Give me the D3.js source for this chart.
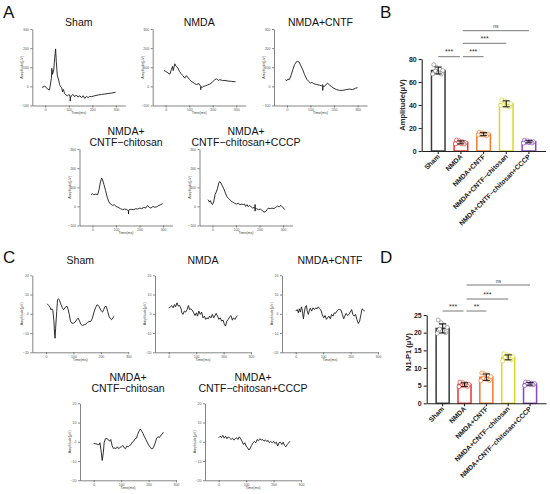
<!DOCTYPE html>
<html lang="en">
<head>
<meta charset="UTF-8">
<title>ERG amplitudes</title>
<style>
  body { margin: 0; background: #fff; }
  svg { display: block; font-family: "Liberation Sans", Arial, sans-serif; }
  .trace { fill: none; stroke: #1a1a1a; stroke-width: 0.9px; stroke-linejoin: round; }
  .mini .domain, .mini .tick line { stroke: #333; stroke-width: 0.6px; }
  .mini .tick text { font-size: 3.5px; fill: #555; }
  .mini-label { font-size: 3.6px; fill: #444; }
  .ptitle { font-size: 10.5px; fill: #111; text-anchor: middle; }
  .letter { font-size: 17px; fill: #111; }
  .bars .domain, .bars .tick line { stroke: #222; stroke-width: 1.1px; }
  .bars .tick text { font-size: 7px; font-weight: bold; fill: #222; }
  .ylab { font-size: 7.5px; font-weight: bold; fill: #222; text-anchor: middle; }
  .xlab { font-size: 6.8px; font-weight: bold; fill: #222; text-anchor: end; }
  .sig line { stroke: #555; stroke-width: 0.8px; }
  .sig text { fill: #333; text-anchor: middle; }
</style>
</head>
<body>
<div id="chart"></div>
<script src="https://d3js.org/d3.v7.min.js"></script>
<script>
// ---- flash ERG traces (time ms, amplitude uV) ----
const flashSham = [[-14,-5],[-6,-2],[-3,3],[4,-7],[11,-14],[18,-19],[26,42],[28,94],[31,63],[36,86],[40,147],[44,196],[47,129],[51,59],[57,33],[61,10],[65,-2],[70,-7],[73,-28],[77,-16],[82,-37],[88,-45],[94,-49],[100,-44],[104,-45],[106,-62],[106,-77],[107,-60],[111,-49],[118,-42],[125,-54],[132,-45],[139,-56],[147,-49],[154,-59],[161,-49],[168,-63],[175,-52],[182,-59],[189,-52],[196,-54],[210,-49],[225,-45],[239,-42],[253,-40],[267,-37],[282,-35],[299,-31]];
const flashNMDA = [[-7,83],[1,78],[10,70],[18,64],[24,87],[29,104],[32,83],[39,118],[45,104],[52,96],[59,78],[66,66],[73,56],[81,43],[88,56],[93,49],[102,35],[109,26],[116,21],[123,14],[130,10],[137,12],[142,14],[149,0],[149,-17],[150,-2],[155,-5],[160,0],[169,3],[177,7],[188,12],[199,23],[209,35],[216,40],[223,31],[230,35],[241,31],[252,31],[265,28],[279,26],[297,24]];
const flashCNTF = [[-7,35],[0,30],[4,38],[10,35],[17,56],[25,87],[32,113],[39,127],[46,130],[52,127],[59,108],[67,87],[75,61],[84,38],[92,26],[100,17],[106,21],[114,14],[126,10],[137,7],[146,3],[152,9],[152,-21],[153,2],[158,0],[165,7],[172,17],[179,9],[188,0],[198,-9],[209,-16],[223,-21],[237,-21],[251,-17],[265,-14],[279,-17],[290,-10],[300,-7]];
const flashChitosan = [[-6,61],[0,66],[6,61],[14,64],[22,61],[28,87],[33,122],[39,148],[43,139],[49,113],[56,82],[63,47],[70,23],[77,12],[85,5],[92,9],[100,0],[109,-5],[119,-12],[128,-17],[137,-14],[145,-16],[153,-23],[153,-40],[154,-20],[159,-16],[167,-16],[176,-17],[184,-12],[192,-14],[201,-9],[209,-12],[218,-5],[226,-9],[234,5],[241,-5],[248,-9],[257,0],[265,-5],[273,-2],[282,5],[290,9],[298,14]];
const flashCCCP = [[-19,35],[-13,23],[-9,30],[-5,17],[0,9],[5,23],[11,61],[16,75],[21,92],[27,122],[31,130],[36,122],[41,110],[48,92],[55,70],[61,52],[69,40],[77,30],[85,23],[93,17],[101,12],[109,16],[117,9],[125,12],[131,9],[136,12],[141,0],[147,9],[152,-2],[157,5],[164,-2],[171,-9],[177,-5],[181,-12],[181,10],[181,-25],[182,-12],[187,-12],[195,-17],[203,-14],[211,-21],[219,-30],[227,-26],[232,-17],[237,-9],[245,-12],[253,-9],[261,-12],[269,-5],[277,2],[284,-2],[291,5],[299,-5],[307,-17]];

// ---- oscillatory potential traces ----
const opSham = [[4,5.2],[10,4.3],[15,3.3],[18,2.1],[22,2.6],[25,1.6],[29,-4],[31,-10],[33,-12.7],[35,-7.5],[39,1.2],[42,7.3],[46,7.8],[50,6.8],[54,5],[59,3.3],[64,2.1],[69,3],[73,3.8],[77,3.8],[81,2.1],[85,-0.5],[89,-3.7],[94,-4.9],[100,-4.9],[106,-4.3],[112,-3.1],[117,-2.3],[122,-3.7],[127,-5.4],[133,-6.1],[139,-5.7],[145,-5.4],[151,-4.5],[157,-4],[163,-4],[169,-2.3],[175,0.9],[181,3.3],[186,4.7],[191,4.3],[196,3],[201,1.6],[206,0.9],[210,2.1],[215,3.8],[220,3.8],[225,1.2],[230,-1.4],[235,-2.6],[239,-3.1],[244,-1.9],[249,-1.2]];
const opNMDA = [[0,3.1],[6,3.6],[11,4.3],[16,3.1],[21,4.8],[25,3.6],[30,5.7],[35,4],[40,4.3],[45,2.6],[48,0.5],[52,-0.3],[57,1.4],[62,0.9],[67,2.2],[72,4.3],[76,2.2],[81,2.6],[86,1.9],[91,0.5],[96,-0.9],[101,0.5],[105,-1.2],[110,1.4],[115,-0.3],[120,0.9],[125,-2.1],[130,-1.2],[135,-2.9],[139,-2.1],[144,-2.6],[149,-1.2],[154,-2.1],[159,-0.3],[164,-2.1],[168,-1.2],[173,0.2],[178,-1.2],[183,-2.9],[188,-2.1],[193,-3.8],[198,-3.3],[202,-5],[207,-6.4],[212,-3.8],[217,-2.9],[222,-1.6],[227,-0.9],[232,-3.3],[236,-2.1],[241,-2.9],[246,-1.7],[251,-0.9]];
const opCNTF = [[0,1.4],[5,2.2],[10,0.5],[13,2.6],[17,0.9],[21,3.6],[24,1.9],[28,-2.6],[32,1.4],[35,3.6],[39,4.3],[42,1.4],[46,-0.3],[50,1.9],[53,2.9],[58,1.4],[63,3.1],[68,2.2],[73,3.1],[78,2.6],[82,3.6],[87,2.6],[92,1.9],[97,-0.5],[102,-2.1],[107,-0.9],[112,-2.9],[116,-2.1],[121,-1.2],[126,-2.6],[131,-0.3],[136,-1.2],[141,0.5],[145,0.2],[150,1.4],[155,2.2],[160,2.2],[165,1.9],[170,-0.3],[175,-2.6],[179,-1.2],[184,0.2],[189,-0.9],[194,-0.3],[199,0.9],[204,2.2],[208,-0.3],[213,-1.2],[218,-0.3],[223,-2.9],[228,-5],[233,-3.8],[238,-0.3],[242,2.6],[247,1.9],[252,1.4]];
const opChitosan = [[0,-0.9],[6,-1],[12,-1.2],[19,-1.6],[23,-0.5],[27,-4.8],[31,-9.7],[35,-5.7],[38,-0.5],[43,1.7],[48,1.6],[53,1.2],[58,0.3],[62,1.2],[67,-1.9],[72,-3.6],[77,-3.1],[81,-3.6],[86,-2.6],[91,-3.6],[96,-2.9],[101,-2.6],[106,-1.9],[111,-3.1],[116,-3.6],[121,-2.2],[126,-2.6],[131,-1.9],[136,-1.4],[141,-0.2],[146,0.3],[151,1.6],[156,1.9],[160,3.8],[165,5.5],[170,6.7],[175,5.5],[180,4.3],[185,2.6],[190,1.2],[195,-0.2],[200,-1.6],[205,-2.6],[210,-3.6],[215,-3.6],[220,-2.2],[225,-0.2],[230,2.1],[235,2.6],[240,2.2],[244,3.3],[249,3.8],[254,5]];
const opCCCP = [[0,2.1],[5,2.9],[10,2.2],[15,3.3],[20,1.9],[25,2.9],[30,1.6],[35,2.6],[40,1.9],[45,1.2],[50,1.9],[55,0.9],[60,1.6],[65,2.1],[70,1.2],[75,2.6],[80,1.6],[85,0.2],[90,-1.4],[95,-0.5],[100,-2.2],[105,-3.1],[110,-4.3],[115,-3.3],[120,-1.9],[125,-0.5],[130,0.2],[135,-0.5],[140,1.2],[145,0.5],[150,1.6],[155,0.9],[160,1.2],[165,0.3],[170,1],[175,0.2],[180,0.7],[185,-0.5],[190,0.2],[195,-0.5],[200,0.3],[205,-0.9],[210,-0.2],[215,-2.2],[220,-0.5],[225,-0.2],[230,-1.4],[235,-0.2],[240,-1.9],[245,-2.6],[250,-1.4],[255,-0.5],[260,0.3]];

const traceTitles = [["Sham"], ["NMDA"], ["NMDA+CNTF"], ["NMDA+", "CNTF\u2212chitosan"], ["NMDA+", "CNTF\u2212chitosan+CCCP"]];
const flashYTicks = [-100, 0, 100, 200, 300];
const opYTicks = [-20, -10, 0, 10, 20];
const timeTicks = [0, 100, 200, 300];

// ---- bar charts ----
const groups = ["Sham", "NMDA", "NMDA+CNTF", "NMDA+CNTF\u2212chitosan", "NMDA+CNTF\u2212chitosan+CCCP"];
const groupColors = ["#3a3a3a", "#e8352f", "#f4792b", "#dcd62c", "#8b45c0"];
const ampMean = [70, 7.5, 14.6, 41, 8];
const ampSD = [3, 1.3, 1.3, 2.6, 0.9];
const ampPoints = [[75, 72.5, 71, 70, 69.5, 68, 67, 67], [9.5, 8.8, 8, 7.3, 7, 6.5, 6, 6.2], [16.3, 15.5, 15, 14.7, 14.2, 13.8, 13.3, 14], [44.5, 43.5, 42, 41, 40.2, 39, 38.5, 39.5], [9.3, 8.8, 8.4, 8, 7.6, 7.2, 7, 6.8]];
const n1p1Mean = [21.2, 5.3, 7.4, 13, 5.5];
const n1p1SD = [1.3, 0.5, 0.9, 0.7, 0.35];
const n1p1Points = [[23.6, 22.8, 22, 21.5, 21, 20.5, 20, 19.8], [6, 5.8, 5.5, 5.3, 5, 5, 4.8, 4.7], [8.6, 8.3, 8, 7.5, 7, 6.8, 6.5, 6.4], [14, 13.7, 13.5, 13.2, 13, 12.6, 12.3, 12], [6, 5.9, 5.7, 5.6, 5.4, 5.3, 5.2, 5]];
const sigB = [["Sham", "NMDA", "***"], ["NMDA", "NMDA+CNTF", "***"], ["NMDA", "NMDA+CNTF\u2212chitosan", "***"], ["NMDA", "NMDA+CNTF\u2212chitosan+CCCP", "ns"]];
const sigD = [["Sham", "NMDA", "***"], ["NMDA", "NMDA+CNTF", "**"], ["NMDA", "NMDA+CNTF\u2212chitosan", "***"], ["NMDA", "NMDA+CNTF\u2212chitosan+CCCP", "ns"]];

const width = 550, height = 494;
const svg = d3.select("#chart").append("svg").attr("width", width).attr("height", height);

function tracePanel(data, p) {
  const g = svg.append("g").attr("class", "mini");
  const x = d3.scaleLinear().domain(p.xDomain).range([p.x, p.x + p.w]);
  const y = d3.scaleLinear().domain(p.yDomain).range([p.top + p.h, p.top]);
  g.append("g").attr("transform", `translate(0,${p.top + p.h})`)
    .call(d3.axisBottom(x).tickValues(timeTicks).tickSize(2).tickSizeOuter(0).tickPadding(1.5));
  g.append("g").attr("transform", `translate(${p.x},0)`)
    .call(d3.axisLeft(y).tickValues(p.yTicks).tickSize(2).tickSizeOuter(0).tickPadding(1.5));
  g.append("path").datum(data).attr("class", "trace")
    .attr("d", d3.line().x(d => x(d[0])).y(d => y(d[1])));
  g.append("text").attr("class", "mini-label")
    .attr("transform", `translate(${p.x - 9},${p.top + p.h / 2}) rotate(-90)`)
    .attr("text-anchor", "middle").text("Amplitude(\u03bcV)");
  g.append("text").attr("class", "mini-label")
    .attr("x", p.x + p.w / 2).attr("y", p.top + p.h + 8.5)
    .attr("text-anchor", "middle").text("Time(ms)");
  p.title.forEach((t, i) => {
    svg.append("text").attr("class", "ptitle")
      .attr("x", p.x + p.w / 2).attr("y", p.titleY + i * 11.5).text(t);
  });
}

const flashSets = [flashSham, flashNMDA, flashCNTF, flashChitosan, flashCCCP];
const flashPos = [
  { x: 32.3, top: 29, titleY: 25.5 }, { x: 152.7, top: 29, titleY: 25.5 }, { x: 274, top: 29, titleY: 25.5 },
  { x: 79.5, top: 149, titleY: 134.5 }, { x: 199.5, top: 149, titleY: 134.5 }
];
flashSets.forEach((d, i) => tracePanel(d, Object.assign({
  w: 93, h: 76.5, xDomain: [-55, 340], yDomain: [-100, 300], yTicks: flashYTicks, title: traceTitles[i]
}, flashPos[i])));

const opSets = [opSham, opNMDA, opCNTF, opChitosan, opCCCP];
const opPos = [
  { x: 32.3, top: 275.3, titleY: 264 }, { x: 155, top: 275.3, titleY: 264 }, { x: 282, top: 275.3, titleY: 264 },
  { x: 80, top: 403.3, titleY: 380.5 }, { x: 205, top: 403.3, titleY: 380.5 }
];
opSets.forEach((d, i) => tracePanel(d, Object.assign({
  w: 96, h: 77, xDomain: [-50, 300], yDomain: [-20, 20], yTicks: opYTicks, title: traceTitles[i]
}, opPos[i])));

function barPanel(means, sds, points, sigs, p) {
  const g = svg.append("g").attr("class", "bars");
  const x = d3.scaleBand().domain(groups).range([p.left, p.right]).paddingInner(0.34).paddingOuter(0.4);
  const y = d3.scaleLinear().domain(p.yDomain).range([p.bottom, p.top]);
  const cx = name => x(name) + x.bandwidth() / 2;

  g.selectAll("rect.bar").data(groups).join("rect")
    .attr("x", d => x(d) + 0.7).attr("width", x.bandwidth() - 1.4)
    .attr("y", (d, i) => y(means[i])).attr("height", (d, i) => p.bottom - y(means[i]))
    .attr("fill", "#fff").attr("stroke", (d, i) => groupColors[i]).attr("stroke-width", 1.5);

  const jitter = [-4.5, -1.5, 1.5, 4.5, -3, 0, 3, -5.5];
  groups.forEach((grp, i) => {
    g.selectAll(null).data(points[i]).join("circle")
      .attr("cx", (v, k) => cx(grp) + jitter[k % jitter.length])
      .attr("cy", v => y(v)).attr("r", 2)
      .attr("fill", "#fff").attr("stroke", i === 0 ? "#888" : groupColors[i]).attr("stroke-width", 0.7);
    const eg = g.append("g").attr("stroke", "#111").attr("stroke-width", 1);
    eg.append("line").attr("x1", cx(grp)).attr("x2", cx(grp))
      .attr("y1", y(means[i] - sds[i])).attr("y2", y(means[i] + sds[i]));
    [means[i] - sds[i], means[i] + sds[i]].forEach(v => {
      eg.append("line").attr("x1", cx(grp) - 3.5).attr("x2", cx(grp) + 3.5).attr("y1", y(v)).attr("y2", y(v));
    });
  });

  g.append("g").attr("transform", `translate(${p.left},0)`)
    .call(d3.axisLeft(y).tickValues(p.yTicks).tickSize(3).tickSizeOuter(0).tickPadding(2));
  const xa = g.append("g").attr("transform", `translate(0,${p.bottom})`)
    .call(d3.axisBottom(x).tickSize(3).tickSizeOuter(0).tickFormat(""));
  g.selectAll("text.xlab").data(groups).join("text").attr("class", "xlab")
    .attr("transform", d => `translate(${cx(d) + 2},${p.bottom + 6}) rotate(-45)`).text(d => d);

  svg.append("text").attr("class", "ylab")
    .attr("transform", `translate(${p.yLabX},${p.yLabY}) rotate(-90)`).text(p.yLabel);

  const sg = svg.append("g").attr("class", "sig");
  sigs.forEach((s, i) => {
    const yy = p.sigY[i];
    const x1 = cx(s[0]) + (i === 0 ? 0 : 2), x2 = cx(s[1]) - (i === 0 ? 1 : 0);
    sg.append("line").attr("x1", x1).attr("x2", x2).attr("y1", yy).attr("y2", yy);
    sg.append("text").attr("x", (x1 + x2) / 2).attr("y", yy - 2.5)
      .style("font-size", s[2] === "ns" ? "5px" : "7px").text(s[2]);
  });
}

barPanel(ampMean, ampSD, ampPoints, sigB, {
  left: 421.7, right: 545.5, bottom: 151, top: 59, yDomain: [0, 80], yTicks: [0, 20, 40, 60, 80],
  yLabel: "Amplitude(\u03bcV)", yLabX: 405, yLabY: 105, sigY: [56.7, 56.7, 43.3, 30.7]
});
barPanel(n1p1Mean, n1p1SD, n1p1Points, sigD, {
  left: 426.7, right: 546, bottom: 403.3, top: 315, yDomain: [0, 25], yTicks: [0, 5, 10, 15, 20, 25],
  yLabel: "N1-P1 (\u03bcV)", yLabX: 411, yLabY: 352, sigY: [311, 311, 299, 285]
});

[["A", 3, 18], ["B", 380, 18], ["C", 3, 263], ["D", 380, 263]].forEach(l => {
  svg.append("text").attr("class", "letter").attr("x", l[1]).attr("y", l[2]).text(l[0]);
});
</script>
</body>
</html>
